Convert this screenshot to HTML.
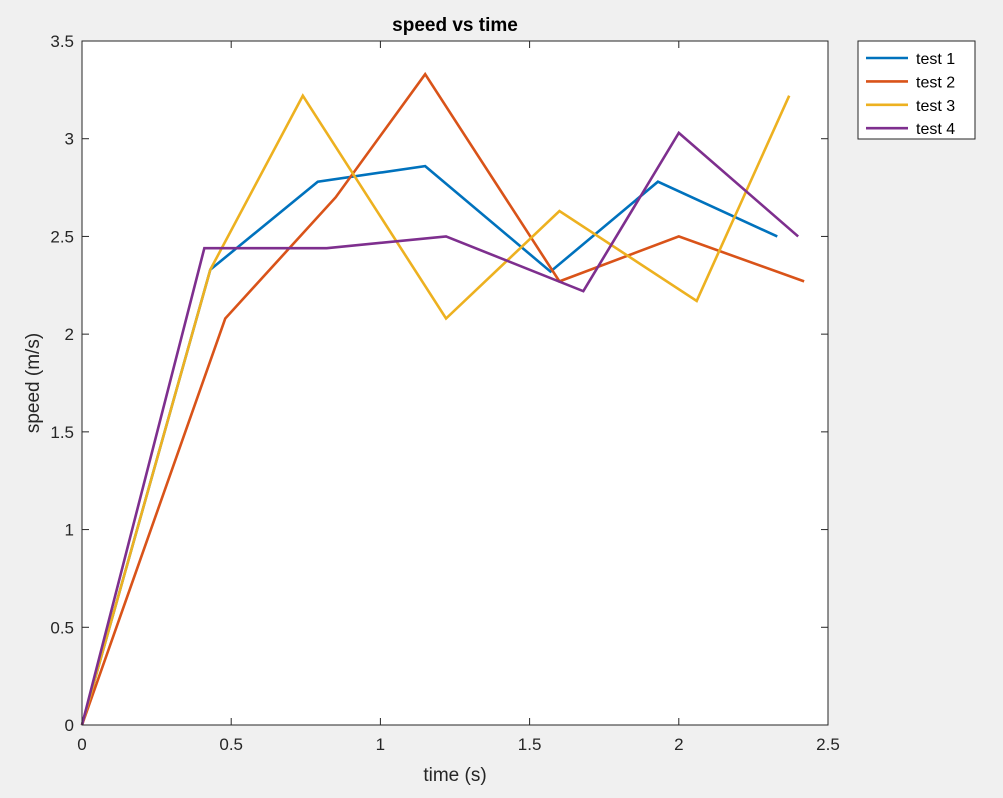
<!DOCTYPE html>
<html><head><meta charset="utf-8"><style>
body{margin:0;background:#f0f0f0;}
svg{display:block;font-family:"Liberation Sans",sans-serif;}
</style></head><body>
<svg id="chart" width="1003" height="798" viewBox="0 0 1003 798">
<rect x="0" y="0" width="1003" height="798" fill="#f0f0f0"/>
<rect x="82" y="41" width="746" height="684" fill="#fff"/>
<g id="grid"></g>
<g id="series"></g>
<rect x="82" y="41" width="746" height="684" fill="none" stroke="#262626" stroke-width="1"/>
<text x="455" y="31" text-anchor="middle" font-size="19" font-weight="bold" fill="#000">speed vs time</text>
<text x="455" y="781" text-anchor="middle" font-size="19" fill="#262626">time (s)</text>
<text transform="translate(39,383) rotate(-90)" text-anchor="middle" font-size="19" fill="#262626">speed (m/s)</text>
<g id="legend">
<rect x="858" y="41" width="117" height="98" fill="#fff" stroke="#262626" stroke-width="1"/>
</g>
</svg>
<script>
const seriesNames = ["test 1","test 2","test 3","test 4"];
const seriesColors = ["#0072bd","#d95319","#edb120","#7e2f8e"];
const test1X = [0,0.43,0.79,1.15,1.57,1.93,2.33];
const test1Y = [0,2.33,2.78,2.86,2.32,2.78,2.5];
const test2X = [0,0.48,0.85,1.15,1.6,2.0,2.42];
const test2Y = [0,2.08,2.7,3.33,2.27,2.5,2.27];
const test3X = [0,0.43,0.74,1.22,1.6,2.06,2.37];
const test3Y = [0,2.33,3.22,2.08,2.63,2.17,3.22];
const test4X = [0,0.41,0.82,1.22,1.68,2.0,2.4];
const test4Y = [0,2.44,2.44,2.5,2.22,3.03,2.5];
const xTicks = [0,0.5,1,1.5,2,2.5];
const xTickLabels = ["0","0.5","1","1.5","2","2.5"];
const yTicks = [0,0.5,1,1.5,2,2.5,3,3.5];
const yTickLabels = ["0","0.5","1","1.5","2","2.5","3","3.5"];

const NS="http://www.w3.org/2000/svg";
const X0=82,X1=828,Y0=725,Y1=41;
function sx(v){return X0+(v-0)/(2.5-0)*(X1-X0);}
function sy(v){return Y0-(v-0)/(3.5-0)*(Y0-Y1);}
function mk(tag,attrs,parent){const e=document.createElementNS(NS,tag);for(const k in attrs)e.setAttribute(k,attrs[k]);parent.appendChild(e);return e;}
const grid=document.getElementById('grid');
xTicks.forEach((t,i)=>{
  const x=sx(t);
  const a=mk('line',{x1:x,x2:x,y1:Y0,y2:Y0-7,stroke:'#262626'},grid);
  
  
  const b=mk('line',{x1:x,x2:x,y1:Y1,y2:Y1+7,stroke:'#262626'},grid);
  
  
  const tx=mk('text',{x:x,y:Y0+25,'text-anchor':'middle','font-size':17,fill:'#262626'},grid);
  tx.textContent=xTickLabels[i];
  
  
});
yTicks.forEach((t,i)=>{
  const y=sy(t);
  const a=mk('line',{x1:X0,x2:X0+7,y1:y,y2:y,stroke:'#262626'},grid);
  
  
  const b=mk('line',{x1:X1,x2:X1-7,y1:y,y2:y,stroke:'#262626'},grid);
  
  
  const tx=mk('text',{x:X0-8,y:y+6,'text-anchor':'end','font-size':17,fill:'#262626'},grid);
  tx.textContent=yTickLabels[i];
  
  
});
const allX=[test1X,test2X,test3X,test4X],allY=[test1Y,test2Y,test3Y,test4Y];
const sg=document.getElementById('series');
allX.forEach((xs,s)=>{
  const pts=xs.map((x,i)=>sx(x)+','+sy(allY[s][i])).join(' ');
  const p=mk('polyline',{points:pts,fill:'none',stroke:seriesColors[s],'stroke-width':2.6,'stroke-linejoin':'miter'},sg);
  
  
});
const lg=document.getElementById('legend');
seriesNames.forEach((n,i)=>{
  const y=58+i*23.4;
  const l=mk('line',{x1:866,x2:908,y1:y,y2:y,stroke:seriesColors[i],'stroke-width':2.6},lg);
  
  
  const t=mk('text',{x:916,y:y+6,'font-size':16,fill:'#000'},lg);
  t.textContent=n;
  
  
});
</script>
</body></html>
